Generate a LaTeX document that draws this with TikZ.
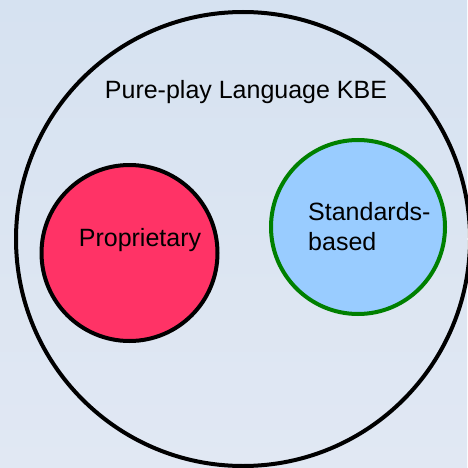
\documentclass[tikz,border=0pt]{standalone}
\usepackage{fontspec}
\setmainfont{Liberation Sans}
\definecolor{bgtop}{HTML}{D6E2F1}
\definecolor{bgbot}{HTML}{E1E8F3}
\definecolor{propfill}{HTML}{FF3366}
\definecolor{stdfill}{HTML}{99CCFF}
\definecolor{stdline}{HTML}{008000}
\tikzset{
  setcircle/.style={circle, draw, line width=4pt, inner sep=0pt},
  label25/.style={font=\fontsize{25}{30}\selectfont, inner sep=0pt}
}
\begin{document}
\begin{tikzpicture}[x=1pt, y=-1pt]
  % canvas with soft vertical gradient
  \shade[top color=bgtop, bottom color=bgbot] (0,0) rectangle (467,468);
  \useasboundingbox (0,0) rectangle (467,468);
  % outer set
  \node[setcircle, minimum size=454pt] (kbe) at (243,239) {};
  \node[label25, anchor=base] (kbelabel) at (246,99) {Pure-play Language KBE};
  % proprietary subset
  \node[setcircle, fill=propfill, minimum size=176pt] (prop) at (129.5,253) {};
  \node[label25, anchor=base] (proplabel) at (140,246) {Proprietary};
  % standards-based subset
  \node[setcircle, draw=stdline, fill=stdfill, minimum size=174pt] (std) at (358,227) {};
  \node[label25, anchor=north west, align=left] (stdlabel) at (308,202.5) {Standards-\\based};
\end{tikzpicture}
\end{document}
